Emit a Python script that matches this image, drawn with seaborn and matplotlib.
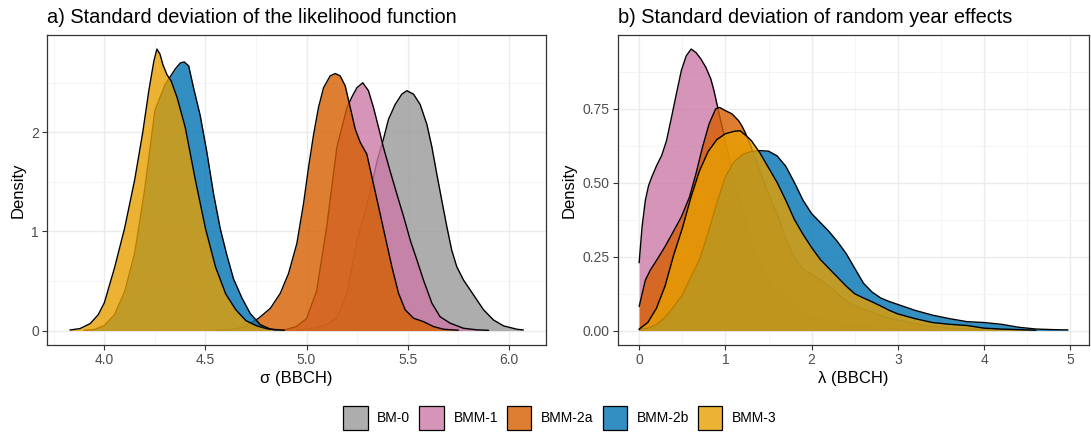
import numpy as np
import pandas as pd
import matplotlib
matplotlib.use("Agg")
import matplotlib.pyplot as plt
from matplotlib.patches import Patch
from matplotlib.ticker import MultipleLocator, FormatStrFormatter
import seaborn as sns

# ---- models and colours -------------------------------------------------
models = ["BM-0", "BMM-1", "BMM-2a", "BMM-2b", "BMM-3"]
model_colors = ["#999999", "#CC79A7", "#D55E00", "#0072B2", "#E69F00"]

# ---- a) posterior density of sigma (likelihood SD) ------------------------
sigma_bm0_x = [4.95, 5.00, 5.05, 5.10, 5.15, 5.20, 5.25, 5.30, 5.35, 5.38, 5.405,
               5.438, 5.471, 5.496, 5.529, 5.562, 5.595, 5.62, 5.644, 5.669, 5.694,
               5.718, 5.743, 5.776, 5.809, 5.842, 5.875, 5.924, 5.974, 6.04, 6.072]
sigma_bm0_y = [0.003, 0.012, 0.03, 0.06, 0.13, 0.375, 0.91, 1.28, 1.72, 1.93, 2.13,
               2.28, 2.385, 2.42, 2.385, 2.28, 2.08, 1.85, 1.58, 1.31, 1.045,
               0.81, 0.643, 0.51, 0.41, 0.31, 0.21, 0.107, 0.047, 0.013, 0.006]

sigma_bmm1_x = [4.85, 4.90, 4.95, 5.00, 5.05, 5.10, 5.15, 5.20, 5.225, 5.249, 5.278,
                5.306, 5.331, 5.356, 5.38, 5.413, 5.446, 5.48, 5.513, 5.546, 5.578,
                5.62, 5.66, 5.71, 5.776, 5.842, 5.90]
sigma_bmm1_y = [0.003, 0.01, 0.04, 0.12, 0.40, 1.05, 1.85, 2.25, 2.36, 2.45, 2.50,
                2.42, 2.25, 2.05, 1.85, 1.61, 1.38, 1.15, 0.91, 0.71, 0.51,
                0.275, 0.14, 0.074, 0.023, 0.007, 0.002]

sigma_bmm2a_x = [4.55, 4.60, 4.65, 4.70, 4.763, 4.821, 4.87, 4.911, 4.952, 4.985,
                 5.01, 5.035, 5.059, 5.084, 5.117, 5.142, 5.166, 5.191, 5.216, 5.241,
                 5.265, 5.298, 5.323, 5.356, 5.389, 5.422, 5.455, 5.488, 5.529, 5.578,
                 5.628, 5.677, 5.75]
sigma_bmm2a_y = [0.002, 0.006, 0.018, 0.045, 0.124, 0.224, 0.375, 0.576, 0.878, 1.28,
                 1.65, 1.98, 2.25, 2.45, 2.57, 2.593, 2.57, 2.47, 2.25, 2.03,
                 1.90, 1.78, 1.55, 1.25, 0.945, 0.643, 0.375, 0.208, 0.124, 0.09,
                 0.04, 0.013, 0.003]

sigma_bmm2b_x = [3.90, 3.95, 4.00, 4.05, 4.10, 4.15, 4.20, 4.25, 4.30, 4.351, 4.376,
                 4.395, 4.417, 4.441, 4.474, 4.507, 4.54, 4.573, 4.606, 4.639, 4.68,
                 4.722, 4.771, 4.82, 4.89]
sigma_bmm2b_y = [0.003, 0.01, 0.05, 0.16, 0.39, 0.78, 1.43, 2.22, 2.48, 2.64, 2.70,
                 2.71, 2.67, 2.45, 2.17, 1.80, 1.38, 1.03, 0.76, 0.52, 0.33,
                 0.17, 0.06, 0.015, 0.002]

sigma_bmm3_x = [3.83, 3.88, 3.93, 3.97, 4.00, 4.05, 4.10, 4.15, 4.19, 4.22, 4.245,
                4.26, 4.275, 4.29, 4.31, 4.33, 4.36, 4.40, 4.45, 4.50, 4.55, 4.60,
                4.65, 4.70, 4.75, 4.80, 4.85]
sigma_bmm3_y = [0.005, 0.02, 0.07, 0.16, 0.28, 0.63, 1.03, 1.52, 2.00, 2.42, 2.72,
                2.84, 2.79, 2.68, 2.58, 2.52, 2.35, 2.05, 1.52, 1.03, 0.64, 0.37,
                0.21, 0.10, 0.05, 0.02, 0.005]

# ---- b) posterior density of lambda (random year effect SD) --------------
lambda_bmm1_x = [0.0, 0.034, 0.072, 0.11, 0.147, 0.204, 0.261, 0.318, 0.375, 0.432,
                 0.489, 0.546, 0.603, 0.66, 0.717, 0.774, 0.831, 0.868, 0.906, 1.0,
                 1.1, 1.2, 1.3, 1.4, 1.5, 1.6, 1.7, 1.8, 2.0, 2.2, 2.5, 3.0, 3.5]
lambda_bmm1_y = [0.229, 0.35, 0.44, 0.49, 0.519, 0.558, 0.591, 0.642, 0.72, 0.80,
                 0.878, 0.928, 0.951, 0.939, 0.917, 0.889, 0.85, 0.81, 0.76, 0.64,
                 0.51, 0.40, 0.30, 0.23, 0.17, 0.13, 0.105, 0.08, 0.045, 0.03,
                 0.015, 0.005, 0.001]

lambda_bmm2a_x = [0.0, 0.072, 0.129, 0.204, 0.299, 0.394, 0.489, 0.584, 0.659, 0.735,
                  0.811, 0.887, 0.932, 1.0, 1.077, 1.153, 1.19, 1.228, 1.3, 1.4, 1.5,
                  1.6, 1.7, 1.8, 1.9, 2.0, 2.1, 2.2, 2.3, 2.4, 2.5, 2.6, 2.7, 2.8,
                  3.0, 3.3, 3.6, 4.0, 4.4]
lambda_bmm2a_y = [0.081, 0.17, 0.204, 0.238, 0.283, 0.333, 0.384, 0.451, 0.53, 0.62,
                  0.698, 0.749, 0.754, 0.743, 0.732, 0.709, 0.692, 0.67, 0.62, 0.54,
                  0.46, 0.395, 0.31, 0.245, 0.206, 0.19, 0.171, 0.15, 0.125, 0.10,
                  0.083, 0.072, 0.062, 0.05, 0.035, 0.018, 0.008, 0.003, 0.001]

lambda_bmm2b_x = [0.0, 0.1, 0.2, 0.3, 0.4, 0.5, 0.6, 0.7, 0.8, 0.9, 1.0, 1.1, 1.2,
                  1.3, 1.4, 1.5, 1.6, 1.7, 1.8, 1.9, 2.0, 2.1, 2.2, 2.3, 2.4, 2.5,
                  2.6, 2.7, 2.8, 2.9, 3.0, 3.2, 3.4, 3.6, 3.8, 4.0, 4.2, 4.4, 4.6,
                  4.8, 4.97]
lambda_bmm2b_y = [0.003, 0.008, 0.02, 0.045, 0.08, 0.12, 0.18, 0.24, 0.33, 0.43, 0.52,
                  0.57, 0.595, 0.605, 0.608, 0.606, 0.59, 0.555, 0.50, 0.44, 0.395,
                  0.365, 0.335, 0.30, 0.26, 0.21, 0.16, 0.13, 0.11, 0.098, 0.088,
                  0.068, 0.052, 0.04, 0.03, 0.027, 0.021, 0.011, 0.005, 0.003, 0.002]

lambda_bmm3_x = [0.0, 0.1, 0.2, 0.3, 0.4, 0.5, 0.6, 0.7, 0.8, 0.9, 1.0, 1.1, 1.17,
                 1.25, 1.3, 1.4, 1.5, 1.6, 1.7, 1.8, 1.9, 2.0, 2.1, 2.2, 2.3, 2.4,
                 2.5, 2.6, 2.7, 2.8, 2.9, 3.0, 3.2, 3.4, 3.6, 3.8, 4.0, 4.2, 4.4, 4.6]
lambda_bmm3_y = [0.005, 0.027, 0.075, 0.15, 0.255, 0.345, 0.45, 0.54, 0.605, 0.645,
                 0.665, 0.673, 0.675, 0.656, 0.642, 0.60, 0.55, 0.50, 0.44, 0.375,
                 0.325, 0.28, 0.24, 0.21, 0.18, 0.15, 0.124, 0.11, 0.097, 0.083,
                 0.068, 0.056, 0.04, 0.027, 0.021, 0.017, 0.008, 0.005, 0.003, 0.001]

# ---- tidy frame ---------------------------------------------------------
def tidy(panel, series):
    rows = []
    for name, xs, ys in series:
        rows.append(pd.DataFrame({"panel": panel, "model": name, "value": xs, "density": ys}))
    return rows

frames = tidy("sigma", [
    ("BM-0", sigma_bm0_x, sigma_bm0_y),
    ("BMM-1", sigma_bmm1_x, sigma_bmm1_y),
    ("BMM-2a", sigma_bmm2a_x, sigma_bmm2a_y),
    ("BMM-2b", sigma_bmm2b_x, sigma_bmm2b_y),
    ("BMM-3", sigma_bmm3_x, sigma_bmm3_y),
]) + tidy("lambda", [
    ("BMM-1", lambda_bmm1_x, lambda_bmm1_y),
    ("BMM-2a", lambda_bmm2a_x, lambda_bmm2a_y),
    ("BMM-2b", lambda_bmm2b_x, lambda_bmm2b_y),
    ("BMM-3", lambda_bmm3_x, lambda_bmm3_y),
])
df = pd.concat(frames, ignore_index=True)

# ---- theme --------------------------------------------------------------
sns.set_theme(style="whitegrid")
plt.rcParams["font.family"] = ["Liberation Sans", "DejaVu Sans"]

W, H = 1091, 433
fig = plt.figure(figsize=(W / 100, H / 100), dpi=100)
fig.patch.set_facecolor("white")

def px_axes(x0, x1, y0, y1):
    return fig.add_axes([x0 / W, 1 - y1 / H, (x1 - x0) / W, (y1 - y0) / H])

ax_a = px_axes(47.3, 546, 35, 344.6)
ax_b = px_axes(617.7, 1089.3, 35, 344.6)

palette = dict(zip(models, model_colors))

def draw_panel(ax, panel, xlabel, title, xmajor, xminor, ymajor, yminor, xfmt, yfmt):
    sub = df[df["panel"] == panel]
    z = 2
    for name in models:
        d = sub[sub["model"] == name]
        if d.empty:
            continue
        ax.fill_between(d["value"], 0, d["density"], color=palette[name],
                        alpha=0.8, linewidth=0, zorder=z)
        sns.lineplot(x=d["value"].to_numpy(), y=d["density"].to_numpy(), ax=ax,
                     color="black", linewidth=1.0, sort=False, estimator=None,
                     legend=False, zorder=z + 1)
        z += 2
    # ggplot-style 5 % expansion of the data range
    xmin, xmax = sub["value"].min(), sub["value"].max()
    ymax = sub["density"].max()
    xr = xmax - xmin
    ax.set_xlim(xmin - 0.05 * xr, xmax + 0.05 * xr)
    ax.set_ylim(-0.05 * ymax, 1.05 * ymax)

    ax.set_facecolor("white")
    ax.xaxis.set_major_locator(MultipleLocator(xmajor))
    ax.xaxis.set_minor_locator(MultipleLocator(xminor))
    ax.yaxis.set_major_locator(MultipleLocator(ymajor))
    ax.yaxis.set_minor_locator(MultipleLocator(yminor))
    ax.xaxis.set_major_formatter(FormatStrFormatter(xfmt))
    ax.yaxis.set_major_formatter(FormatStrFormatter(yfmt))
    ax.grid(which="major", color="#EBEBEB", linewidth=1.0, zorder=0)
    ax.grid(which="minor", color="#F2F2F2", linewidth=0.6, zorder=0)
    ax.set_axisbelow(True)
    for s in ax.spines.values():
        s.set_visible(True)
        s.set_color("#333333")
        s.set_linewidth(0.9)
        s.set_zorder(20)
    ax.tick_params(which="major", bottom=True, left=True, top=False, right=False,
                   direction="out", length=3.5, width=0.8, color="#333333",
                   labelcolor="#4D4D4D", labelsize=10, pad=2.5)
    ax.tick_params(which="minor", bottom=False, left=False)
    ax.set_xlabel(xlabel, fontsize=12, color="black", labelpad=3)
    ax.set_ylabel("Density", fontsize=12, color="black", labelpad=4)
    ax.set_title(title, loc="left", fontsize=14.4, color="black", pad=8.5)

draw_panel(ax_a, "sigma", "σ (BBCH)", "a) Standard deviation of the likelihood function",
           0.5, 0.25, 1, 0.5, "%.1f", "%.0f")
draw_panel(ax_b, "lambda", "λ (BBCH)", "b) Standard deviation of random year effects",
           1, 0.5, 0.25, 0.125, "%.0f", "%.2f")

handles = [Patch(facecolor=matplotlib.colors.to_rgba(c, 0.8), edgecolor="black",
                 linewidth=0.9, label=m) for m, c in zip(models, model_colors)]
fig.legend(handles=handles, loc="center", bbox_to_anchor=(560 / W, 1 - 418 / H),
           ncol=5, frameon=False, fontsize=10, handlelength=1.75, handleheight=2.2,
           handletextpad=0.7, columnspacing=0.65, borderpad=0.2, labelcolor="black")

fig.savefig("out.png", dpi=100, facecolor="white")
